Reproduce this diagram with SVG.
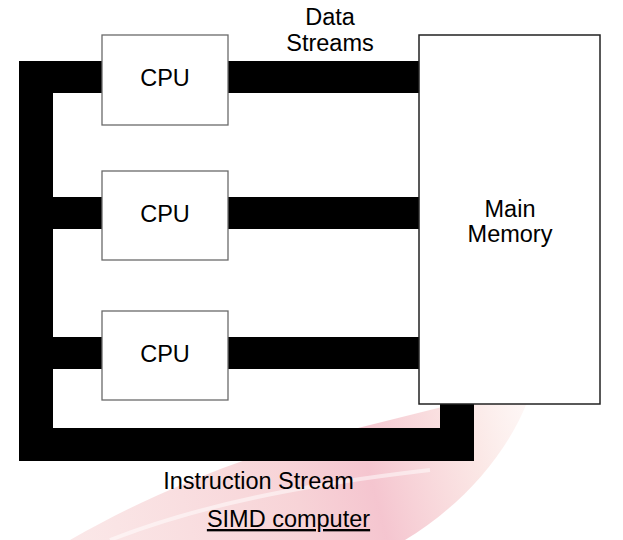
<svg xmlns="http://www.w3.org/2000/svg" width="623" height="540" viewBox="0 0 623 540">
  <defs>
    <linearGradient id="swoosh" x1="80" y1="530" x2="540" y2="410" gradientUnits="userSpaceOnUse">
      <stop offset="0" stop-color="#f6cfd0" stop-opacity="0.5"/>
      <stop offset="0.45" stop-color="#f2b7bd" stop-opacity="0.6"/>
      <stop offset="0.62" stop-color="#ee9fb0" stop-opacity="0.6"/>
      <stop offset="0.85" stop-color="#f7d0cc" stop-opacity="0.5"/>
      <stop offset="1" stop-color="#fbe6e2" stop-opacity="0.25"/>
    </linearGradient>
    <style>
      .lbl { font-family: "Liberation Sans", Arial, sans-serif; font-size: 23.5px; fill: #000; text-anchor: middle; }
      .cpu { fill: #fff; stroke: #6a6a6a; stroke-width: 1.3; }
      .mem { fill: #fff; stroke: #222; stroke-width: 1.5; }
      .bus { fill: #000; }
    </style>
  </defs>
  <rect width="623" height="540" fill="#fff"/>
  <g id="watermark">
    <path d="M 70 540 C 140 500, 210 470, 290 445 L 470 400 L 528 400 C 505 460, 455 510, 405 540 Z" fill="url(#swoosh)"/>
    <path d="M 110 540 C 200 505, 300 485, 430 470" fill="none" stroke="#fff" stroke-opacity="0.5" stroke-width="4"/>
  </g>
  <g id="connectors">
    <path class="bus" d="M19,61 H102 V93 H53 V197 H102 V229 H53 V337 H102 V369 H53 V428 H440 V404 H474 V461 H19 Z"/>
    <rect class="bus" x="228" y="61" width="191" height="32"/>
    <rect class="bus" x="228" y="197" width="191" height="32"/>
    <rect class="bus" x="228" y="337" width="191" height="32"/>
  </g>
  <g id="cpu1">
    <rect class="cpu" x="102" y="35" width="126" height="90"/>
    <text class="lbl" x="165" y="86">CPU</text>
  </g>
  <g id="cpu2">
    <rect class="cpu" x="102" y="171" width="126" height="89"/>
    <text class="lbl" x="165" y="222">CPU</text>
  </g>
  <g id="cpu3">
    <rect class="cpu" x="102" y="311" width="126" height="89"/>
    <text class="lbl" x="165" y="362">CPU</text>
  </g>
  <g id="memory">
    <rect class="mem" x="419" y="35" width="181" height="369"/>
    <text class="lbl" x="510" y="217">Main</text>
    <text class="lbl" x="510" y="242">Memory</text>
  </g>
  <g id="labels">
    <text class="lbl" x="330" y="25">Data</text>
    <text class="lbl" x="330" y="51">Streams</text>
    <text class="lbl" x="258.5" y="489">Instruction Stream</text>
    <text class="lbl" x="288.5" y="527" text-decoration="underline">SIMD computer</text>
  </g>
</svg>
